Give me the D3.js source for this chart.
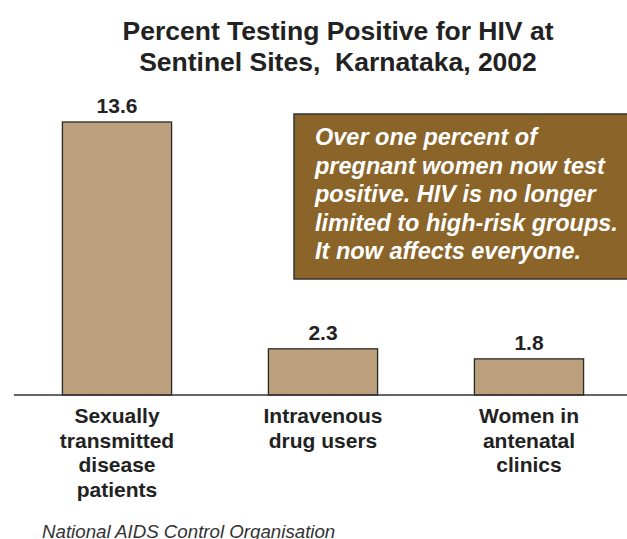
<!doctype html>
<html>
<head>
<script src="https://d3js.org/d3.v7.min.js"></script>
<style>
body { margin: 0; background: #fff; }
text { font-family: "Liberation Sans", Arial, sans-serif; }
</style>
</head>
<body>
<svg width="627" height="539"></svg>
<script>
var categories = [
	["Sexually", "transmitted", "disease", "patients"],
	["Intravenous", "drug users"],
	["Women in", "antenatal", "clinics"]
];
var values = [13.6, 2.3, 1.8];
var titleLines = ["Percent Testing Positive for HIV at", "Sentinel Sites,  Karnataka, 2002"];
var noteLines = ["Over one percent of", "pregnant women now test", "positive. HIV is no longer",
	"limited to high-risk groups.", "It now affects everyone."];
var source = "National AIDS Control Organisation";

var svg = d3.select("svg");
var baseY = 395;

var x = d3.scaleBand()
	.domain(d3.range(values.length))
	.range([14, 632])
	.paddingInner(0.47)
	.paddingOuter(0.235);

var y = d3.scaleLinear().domain([0, 13.6]).range([baseY, 122]);

// title
svg.append("text")
	.attr("y", 40)
	.attr("text-anchor", "middle")
	.style("font-size", "26.5px").style("font-weight", "bold").attr("fill", "#222")
	.style("white-space", "pre")
	.selectAll("tspan").data(titleLines).join("tspan")
	.attr("x", 338).attr("dy", function(d, i) { return i ? 31 : 0; })
	.text(function(d) { return d; });

// bars
svg.selectAll("rect.bar").data(values).join("rect")
	.attr("class", "bar")
	.attr("x", function(d, i) { return x(i); })
	.attr("width", x.bandwidth())
	.attr("y", function(d) { return y(d); })
	.attr("height", function(d) { return baseY - y(d); })
	.attr("fill", "#bc9f7c")
	.attr("stroke", "#2a2a2a")
	.attr("stroke-width", 1.3);

// value labels
svg.selectAll("text.val").data(values).join("text")
	.attr("class", "val")
	.attr("x", function(d, i) { return x(i) + x.bandwidth() / 2; })
	.attr("y", function(d) { return y(d) - 9; })
	.attr("text-anchor", "middle")
	.style("font-size", "21px").style("font-weight", "bold").attr("fill", "#222")
	.text(function(d) { return d.toFixed(1); });

// baseline
svg.append("line")
	.attr("x1", 14).attr("x2", 627)
	.attr("y1", baseY).attr("y2", baseY)
	.attr("stroke", "#333").attr("stroke-width", 1.3);

// category labels
svg.selectAll("text.cat").data(categories).join("text")
	.attr("class", "cat")
	.attr("text-anchor", "middle")
	.attr("y", 423)
	.style("font-size", "21px").style("font-weight", "bold").attr("fill", "#222")
	.each(function(d, i) {
		var cx = x(i) + x.bandwidth() / 2;
		d3.select(this).selectAll("tspan").data(d).join("tspan")
			.attr("x", cx)
			.attr("dy", function(t, j) { return j ? 24.7 : 0; })
			.text(function(t) { return t; });
	});

// callout box
svg.append("rect")
	.attr("x", 294).attr("y", 114)
	.attr("width", 345).attr("height", 165)
	.attr("fill", "#8a6428")
	.attr("stroke", "#333").attr("stroke-width", 1.5);

svg.append("text")
	.attr("y", 145)
	.style("font-size", "23.5px").style("font-weight", "bold").style("font-style", "italic")
	.attr("fill", "#fff")
	.selectAll("tspan").data(noteLines).join("tspan")
	.attr("x", 315).attr("dy", function(d, i) { return i ? 28.5 : 0; })
	.text(function(d) { return d; });

// source
svg.append("text")
	.attr("x", 42).attr("y", 538)
	.style("font-size", "18.7px").style("font-style", "italic")
	.attr("fill", "#333")
	.text(source);
</script>
</body>
</html>
